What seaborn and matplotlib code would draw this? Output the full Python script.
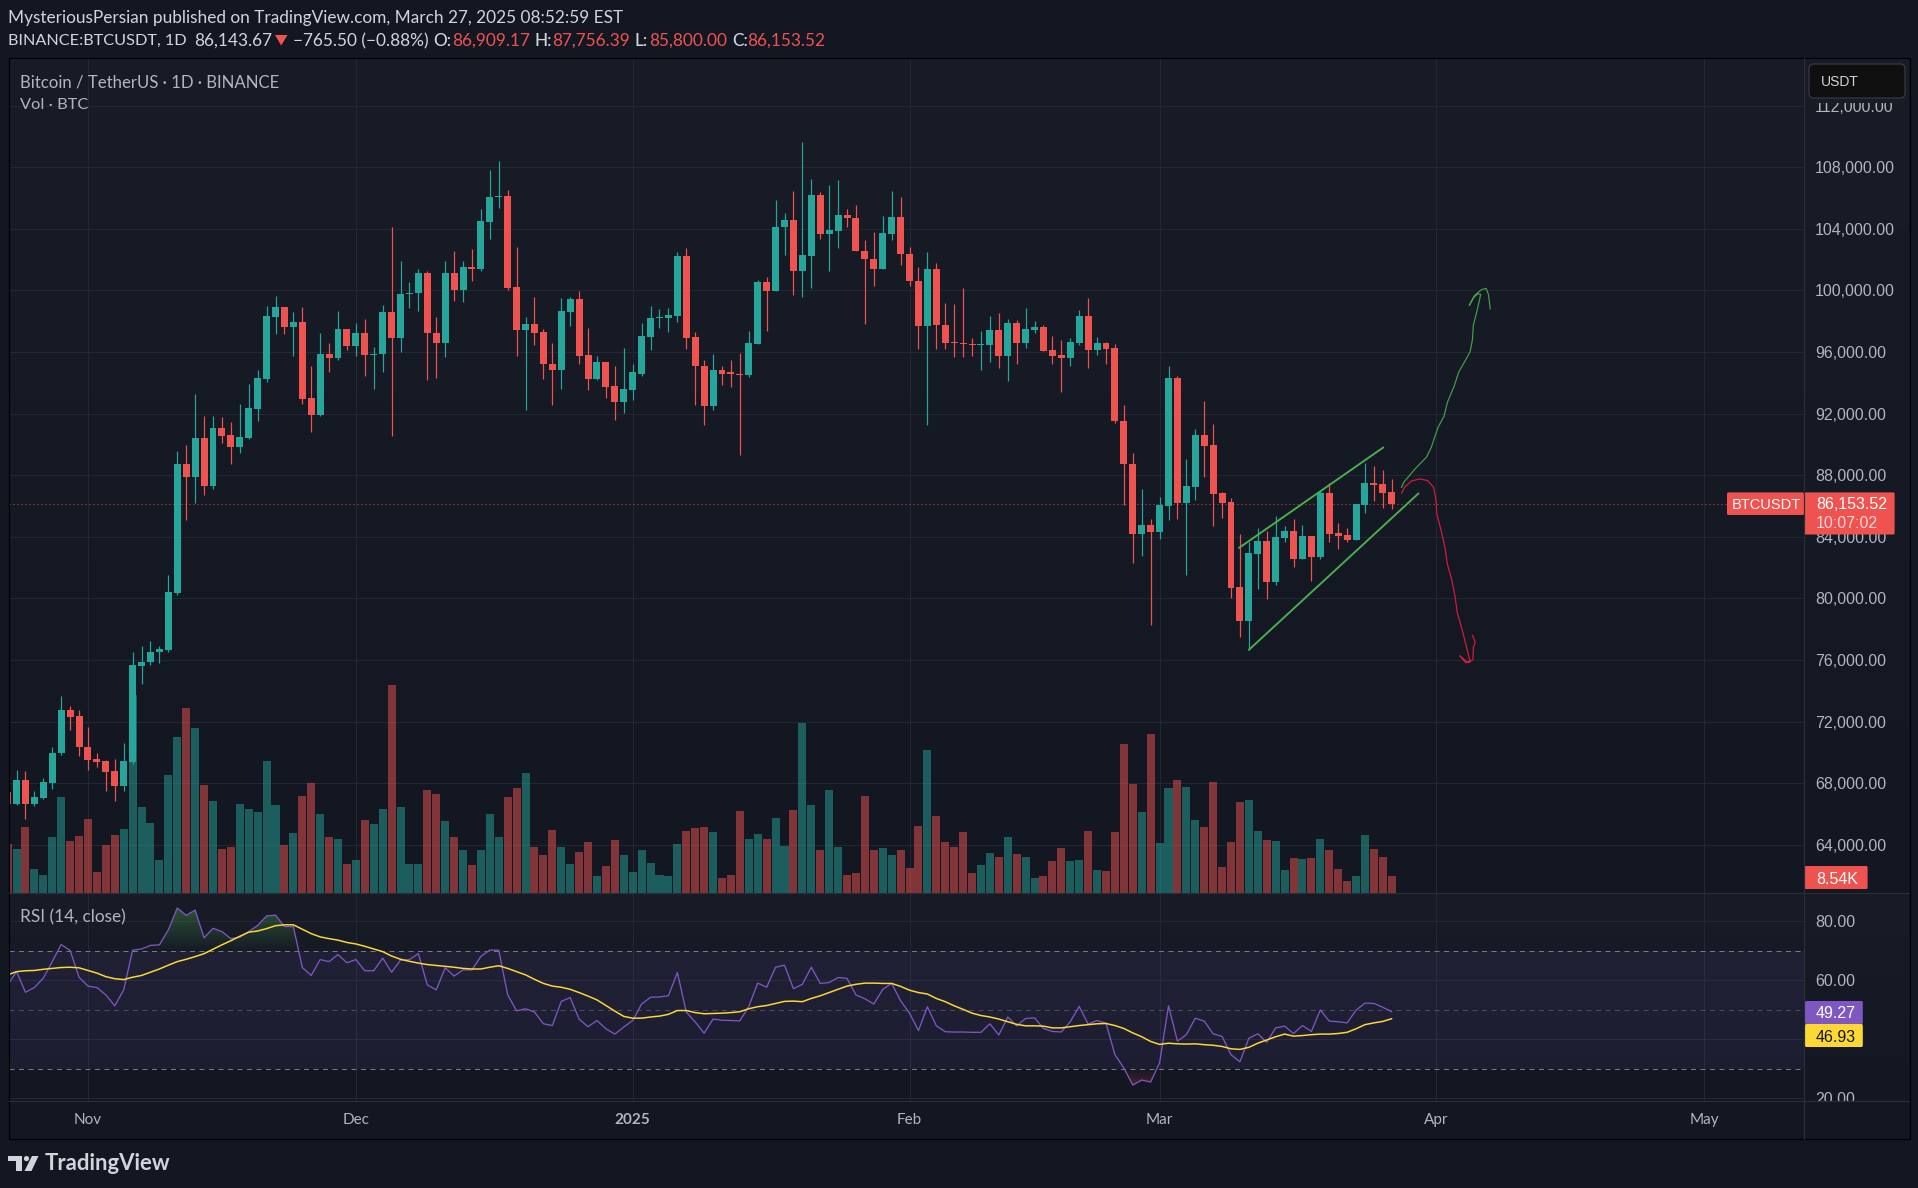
import numpy as np
import pandas as pd
import seaborn as sns
import matplotlib
matplotlib.use('Agg')
import matplotlib.pyplot as plt
from matplotlib.colors import LinearSegmentedColormap
from matplotlib.patches import Rectangle, FancyBboxPatch, Polygon, Circle, PathPatch
from matplotlib.path import Path

# candles, oldest first (23 Oct 2024 .. 27 Mar 2025)
opens = [
    67440, 66670, 68220, 66670, 67050, 68020, 69930, 72770, 72380, 70380,
    69540, 69410, 68800, 67830, 69350, 75580, 75840, 76490, 76680, 80360,
    88700, 87890, 90440, 87310, 91090, 90630, 89860, 90440, 92310, 94250,
    98290, 98930, 97640, 97970, 93020, 91930, 95900, 95640, 97510, 96420,
    97260, 95830, 95900, 98610, 96930, 99770, 99840, 101160, 97260, 96610,
    101160, 100000, 101490, 101420, 104460, 106070, 106140, 100230, 97450, 97840,
    97320, 95250, 94860, 98610, 99450, 95830, 94250, 95380, 93800, 92770,
    93540, 94570, 97000, 98220, 98220, 98350, 102260, 97000, 95120, 92510,
    94800, 94670, 94570, 94510, 96540, 100550, 99970, 104130, 104590, 101290,
    102260, 106200, 103680, 103880, 104910, 104720, 102580, 102070, 101360, 103680,
    104780, 102390, 100610, 97710, 101360, 97770, 96670, 96610, 96540, 96480,
    96480, 97450, 95770, 97900, 96610, 97450, 97640, 96160, 95830, 95640,
    96610, 98350, 96160, 96610, 96290, 91540, 88700, 84210, 84790, 84340,
    86010, 94320, 86210, 87240, 90630, 89990, 86850, 86270, 80750, 78550,
    82910, 83750, 81070, 83950, 84400, 82590, 84080, 82720, 86850, 84270,
    84140, 83820, 86080, 87500, 87440, 86909.17]
highs = [
    67640, 68860, 68800, 67510, 68350, 70320, 73680, 73030, 72770, 71670,
    69990, 69480, 69540, 70640, 76490, 76940, 77260, 76940, 81520, 89600,
    89990, 93280, 91860, 91860, 91800, 91470, 92640, 93930, 94860, 99000,
    99650, 98930, 98610, 98930, 95060, 97260, 96610, 98680, 97510, 97900,
    98160, 96350, 99060, 104130, 101940, 100520, 101420, 101290, 98290, 101940,
    102580, 101940, 102710, 105300, 107850, 108430, 106530, 102840, 98290, 99580,
    97510, 96610, 99520, 99580, 99970, 97580, 95770, 95380, 95060, 96290,
    95190, 97900, 99000, 98810, 98870, 102520, 102780, 97320, 95450, 95900,
    95120, 95510, 95960, 97380, 100680, 100870, 105880, 105040, 106460, 109660,
    107240, 106400, 106850, 107170, 105300, 105560, 103300, 103810, 104850, 106460,
    106070, 102840, 101490, 102520, 101810, 99190, 99130, 100160, 96930, 97380,
    98350, 98550, 98160, 98090, 98870, 98030, 97770, 97060, 96800, 96930,
    98740, 99520, 97000, 96670, 96540, 92570, 89470, 87110, 85170, 86600,
    95060, 94440, 89020, 91020, 92830, 91340, 86920, 86530, 84210, 83690,
    84590, 84400, 85370, 84720, 85170, 84790, 84080, 86980, 87500, 84920,
    84590, 86140, 88820, 88630, 88310, 87756.39]
lows = [
    66510, 66570, 65670, 66510, 66990, 67640, 69800, 71480, 69740, 68860,
    69060, 67510, 66860, 67510, 69250, 74450, 75650, 75780, 76550, 80230,
    85110, 86210, 86730, 87110, 90120, 88760, 89410, 90380, 91540, 94060,
    97190, 97190, 95770, 92640, 90830, 91860, 94670, 95450, 96160, 95770,
    94440, 93610, 94670, 90570, 96030, 98870, 98680, 94190, 94320, 95700,
    99320, 99260, 100610, 101290, 103360, 105360, 100030, 95770, 92250, 96480,
    94250, 92570, 93610, 97710, 95250, 93540, 94190, 93020, 91600, 92050,
    92890, 94440, 96160, 97580, 97320, 97970, 96220, 92570, 91280, 92250,
    93860, 93730, 89340, 94380, 96540, 97380, 99970, 102330, 99710, 99580,
    100160, 103360, 101290, 102780, 104130, 102580, 97840, 100290, 101360, 103300,
    101620, 100290, 96220, 91280, 96220, 96220, 95700, 95700, 95770, 94800,
    95320, 94930, 94120, 95250, 96290, 97260, 96090, 95250, 93410, 95060,
    96480, 94930, 95830, 95250, 91410, 86080, 82330, 82780, 78290, 83880,
    85110, 85170, 81520, 86400, 87890, 84720, 85240, 80040, 77520, 76680,
    80620, 79970, 80880, 83690, 82070, 82530, 81140, 82590, 83690, 83240,
    83690, 83820, 85560, 86340, 85890, 85800.00]
closes = [
    66670, 68220, 66670, 67120, 68090, 69990, 72770, 72320, 70320, 69480,
    69350, 68730, 67830, 69410, 75650, 75900, 76550, 76740, 80430, 88700,
    87890, 90440, 87310, 91090, 90570, 89860, 90500, 92380, 94320, 98350,
    98930, 97640, 97970, 92960, 91930, 95900, 95640, 97510, 96420, 97260,
    95830, 95900, 98610, 96930, 99770, 99840, 101160, 97260, 96610, 101160,
    100000, 101490, 101420, 104520, 106070, 106140, 100160, 97450, 97840, 97260,
    95190, 94860, 98680, 99450, 95770, 94250, 95380, 93730, 92770, 93610,
    94670, 97060, 98220, 98290, 98420, 102260, 96930, 95060, 92510, 94800,
    94570, 94570, 94510, 96610, 100550, 99970, 104130, 104590, 101290, 102330,
    106200, 103680, 103940, 104910, 104720, 102580, 102070, 101360, 103750, 104780,
    102390, 100610, 97710, 101360, 97770, 96610, 96610, 96540, 96480, 96540,
    97450, 95770, 97900, 96610, 97510, 97640, 96090, 95770, 95640, 96670,
    98350, 96160, 96610, 96220, 91540, 88700, 84210, 84790, 84340, 86080,
    94320, 86210, 87310, 90630, 89920, 86790, 86210, 80690, 78550, 82980,
    83750, 81070, 84010, 84400, 82590, 84080, 82720, 86850, 84210, 84080,
    83820, 86140, 87500, 87370, 86850, 86153.52]
# volume in thousands of BTC
volumes = [
    24.8, 22.3, 33.4, 12.0, 9.0, 28.4, 48.4, 26.4, 28.9, 37.4,
    10.5, 24.3, 29.4, 32.4, 99.9, 43.4, 35.4, 16.8, 59.5, 78.8,
    93.4, 83.3, 54.5, 46.4, 22.3, 23.3, 44.9, 42.4, 40.9, 66.8,
    44.4, 24.3, 30.4, 48.9, 55.5, 39.9, 28.4, 27.4, 14.6, 16.8,
    36.9, 34.9, 42.4, 104.9, 43.4, 14.6, 14.6, 52.0, 49.9, 36.4,
    28.4, 21.8, 14.1, 21.8, 39.9, 28.4, 48.4, 53.0, 60.5, 23.3,
    19.3, 31.9, 23.3, 14.6, 20.8, 25.9, 8.5, 13.6, 26.9, 19.3,
    10.5, 21.8, 15.1, 9.0, 8.5, 24.8, 31.4, 32.9, 33.4, 30.9,
    7.5, 9.0, 41.4, 27.4, 29.9, 27.4, 37.9, 23.8, 41.9, 85.8,
    44.4, 21.8, 52.0, 23.3, 9.0, 10.0, 48.9, 21.8, 22.8, 19.3,
    21.8, 12.6, 33.9, 72.3, 38.9, 25.9, 23.3, 30.9, 10.0, 14.1,
    20.3, 18.3, 28.4, 19.8, 18.3, 7.5, 8.5, 16.3, 22.8, 16.3,
    16.8, 31.4, 11.5, 11.0, 30.9, 75.3, 55.0, 40.9, 80.3, 25.4,
    53.0, 57.0, 53.5, 36.9, 33.4, 56.0, 13.1, 25.9, 45.9, 46.9,
    31.4, 26.9, 26.4, 11.5, 17.8, 17.3, 17.8, 27.4, 21.8, 12.0,
    6.0, 8.5, 29.4, 22.3, 18.3, 8.54]
rsi = [
    58.4, 62.9, 55.9, 57.5, 60.7, 66.3, 72.1, 70.1, 61.0, 58.0,
    57.5, 55.0, 51.3, 56.7, 70.2, 70.6, 71.8, 72.0, 77.1, 84.5,
    82.0, 83.8, 74.4, 77.6, 76.5, 74.1, 74.6, 76.5, 78.6, 81.8,
    82.1, 78.2, 78.2, 64.3, 61.6, 67.0, 66.3, 68.7, 65.9, 67.0,
    63.2, 63.2, 67.5, 62.7, 66.8, 67.0, 69.0, 58.4, 56.7, 64.2,
    61.4, 63.5, 63.5, 68.1, 70.2, 70.2, 55.0, 49.6, 50.3, 49.2,
    45.2, 44.6, 52.8, 54.1, 46.8, 44.2, 46.3, 43.5, 41.7, 44.1,
    46.3, 51.9, 54.2, 54.3, 54.7, 62.6, 49.2, 45.8, 42.0, 46.8,
    46.4, 46.3, 46.2, 51.1, 59.0, 57.6, 64.4, 65.1, 57.1, 58.6,
    64.4, 58.9, 59.2, 60.9, 60.6, 55.0, 53.7, 51.9, 56.9, 58.9,
    53.0, 48.8, 42.9, 51.0, 44.5, 42.5, 42.4, 42.4, 42.3, 42.3,
    45.2, 41.4, 47.5, 44.5, 47.0, 47.2, 43.6, 42.6, 42.4, 45.9,
    51.1, 45.1, 46.3, 45.4, 34.7, 30.2, 24.4, 26.1, 25.4, 31.9,
    51.3, 39.3, 41.5, 47.1, 46.1, 41.8, 40.9, 34.7, 32.3, 40.3,
    41.8, 38.9, 43.8, 44.4, 41.9, 44.6, 42.6, 49.9, 46.1, 45.9,
    45.5, 49.8, 52.2, 52.1, 50.8, 49.27]
rsi_ma = [
    61.8, 62.9, 63.2, 63.3, 63.7, 64.0, 64.3, 64.4, 64.2, 63.3,
    62.4, 61.2, 60.5, 60.2, 61.0, 61.6, 62.7, 63.8, 65.1, 66.3,
    67.1, 68.0, 69.0, 70.5, 72.0, 73.4, 74.9, 76.3, 76.7, 77.5,
    78.5, 78.8, 78.8, 77.3, 75.8, 74.7, 74.1, 73.6, 72.8, 72.3,
    71.5, 70.6, 69.7, 68.2, 67.1, 66.4, 65.8, 65.3, 65.0, 64.7,
    64.4, 64.0, 63.8, 63.8, 64.4, 64.9, 64.0, 62.9, 61.8, 60.3,
    58.9, 58.0, 57.6, 56.9, 55.8, 54.6, 53.3, 51.4, 49.5, 47.7,
    47.1, 47.1, 47.5, 47.8, 48.4, 49.7, 49.7, 49.0, 48.6, 48.7,
    48.8, 49.0, 49.3, 50.3, 51.0, 51.4, 52.1, 52.8, 52.9, 52.7,
    53.8, 54.7, 55.8, 56.9, 58.0, 58.6, 59.0, 59.0, 58.9, 58.9,
    57.9, 56.6, 55.8, 55.3, 53.8, 52.7, 51.3, 50.1, 48.8, 48.0,
    47.5, 46.8, 45.9, 45.0, 44.5, 44.5, 44.4, 43.8, 43.8, 44.2,
    44.6, 44.9, 45.2, 45.3, 44.6, 43.6, 42.1, 40.8, 39.2, 38.2,
    38.6, 38.4, 38.3, 38.4, 38.1, 37.9, 37.5, 36.7, 36.5, 37.2,
    38.6, 39.7, 40.8, 41.7, 41.0, 41.2, 41.5, 41.7, 41.7, 41.9,
    42.3, 43.5, 44.9, 45.5, 46.0, 46.93]

month_ticks = [9, 39, 70, 101, 129, 160, 190]
month_labels = ['Nov', 'Dec', '2025', 'Feb', 'Mar', 'Apr', 'May']
price_ticks = list(range(64000, 116000, 4000))
rsi_ticks = [20, 40, 60, 80]
last_price = 86153.52

# hand drawn bits, bar index / price
channel_top_x = [137.9, 154.05]
channel_top_y = [83280, 89800]
channel_bot_x = [139.0, 158.0]
channel_bot_y = [76660, 86820]
up_x = [156.09, 156.35, 157.63, 158.91, 159.42, 160.19, 160.86, 161.22, 161.98, 162.5, 163.16, 163.78,
        164.04, 164.14, 164.55, 164.96, 164.65, 164.14, 163.68, 164.29, 165.06, 165.57, 165.83, 166.03]
up_y = [87200, 87545, 88420, 89188, 89797, 91122, 91838, 92713, 93773, 94700, 95363, 96025,
        96820, 97748, 98675, 99735, 99788, 99523, 99020, 99682, 100053, 100133, 99735, 98781]
down_x = [156.09, 156.45, 157.22, 158.14, 159.01, 159.68, 159.93, 160.04, 160.55, 160.96, 161.22, 161.73,
          162.09, 162.34, 162.86, 163.27, 163.78, 163.27, 162.6, 163.52, 164.09, 164.14, 164.34, 164.04]
down_y = [86830, 87227, 87625, 87757, 87651, 87227, 86485, 85505, 84365, 83305, 82245, 81185,
          80125, 79065, 78005, 77078, 75885, 75832, 76283, 75832, 76018, 76813, 77157, 77608]

GREEN = '#26A69A'
RED = '#EF5350'
PURPLE = '#7E57C2'
YELLOW = '#FDD835'
LABEL = '#B2B5BE'
TEXT = '#D1D4DC'
GRID = '#232733'
LINE = '#2A2E39'
BG_TOP = '#181C27'
BG_BOT = '#131722'
W, H = 1918, 1188
PX = 0.72  # one pixel in points at dpi 100

sns.set_theme(style='dark', rc={'axes.facecolor': 'none', 'figure.facecolor': BG_BOT})
plt.rcParams['font.family'] = ['Lato', 'DejaVu Sans']

fig = plt.figure(figsize=(W / 100, H / 100), dpi=100)


def px_axes(x0, y0, x1, y1, z):
    return fig.add_axes([x0 / W, 1 - y1 / H, (x1 - x0) / W, (y1 - y0) / H], zorder=z)


# backdrop, in pixels
ax_bg = px_axes(0, 0, W, H, 0)
ax_bg.set_axis_off()
grad = LinearSegmentedColormap.from_list('pane', [BG_TOP, BG_BOT])
ramp = np.linspace(0, 1, 256).reshape(-1, 1)
ax_bg.imshow(ramp, extent=[9, 1909, 893, 58], cmap=grad, aspect='auto')
ax_bg.imshow(ramp, extent=[9, 1909, 1101, 893], cmap=grad, aspect='auto')
ax_bg.set_xlim(0, W)
ax_bg.set_ylim(H, 0)

idx = np.arange(len(closes))
o = np.array(opens)
c = np.array(closes)
colors = np.where(c < o, RED, GREEN)

# x = bar index, 8.93 px per bar with bar 0 at px 7.6
xlim = ((9 - 7.6) / 8.93, (1804 - 7.6) / 8.93)

ax_main = px_axes(9, 58, 1804, 893, 2)
ax_main.set_xlim(*xlim)
ax_main.set_ylim(60871, 115091)
ax_main.set_xticks(month_ticks)
ax_main.set_xticklabels([])
ax_main.set_yticks(price_ticks)
ax_main.set_yticklabels([f'{p:,.2f}' for p in price_ticks], family='Liberation Sans', fontsize=11.5, color=LABEL)
ax_main.yaxis.tick_right()
ax_main.tick_params(length=0, pad=8)
ax_main.grid(True, color=GRID, lw=PX, zorder=0)
ax_main.set_axisbelow(True)
for s in ax_main.spines.values():
    s.set_visible(False)

ax_main.axhline(last_price, color=RED, alpha=0.9, lw=PX, ls=(0, (1, 3)), zorder=1)
ax_main.vlines(idx, lows, highs, colors=colors, lw=PX * 1.2, zorder=2)
ax_main.bar(idx, np.maximum(np.abs(c - o), 70), bottom=np.minimum(o, c), width=0.78, color=colors, lw=0, zorder=3)

sns.lineplot(x=channel_top_x, y=channel_top_y, color='#4CAF50', lw=PX * 1.9, ax=ax_main, sort=False, estimator=None, zorder=4)
sns.lineplot(x=channel_bot_x, y=channel_bot_y, color='#4CAF50', lw=PX * 1.9, ax=ax_main, sort=False, estimator=None, zorder=4)
sns.lineplot(x=up_x, y=up_y, color='#43A047', lw=PX * 1.2, ax=ax_main, sort=False, estimator=None, zorder=4)
sns.lineplot(x=down_x, y=down_y, color='#D81B3C', lw=PX * 1.2, ax=ax_main, sort=False, estimator=None, zorder=4)
ax_main.set_xlim(*xlim)
ax_main.set_ylim(60871, 115091)

# volume on its own scale, about 2 px per thousand
ax_vol = px_axes(9, 58, 1804, 893, 3)
vol_df = pd.DataFrame({'bar': idx, 'volume': volumes, 'side': np.where(c < o, 'down', 'up')})
sns.barplot(data=vol_df, x='bar', y='volume', hue='side', palette={'up': GREEN, 'down': RED},
            native_scale=True, dodge=False, width=0.9, saturation=1, alpha=0.5, legend=False,
            linewidth=0, errorbar=None, ax=ax_vol)
ax_vol.set_xlim(*xlim)
ax_vol.set_ylim(0, 421.7)
ax_vol.set_axis_off()

# RSI pane
rsi_lim = (18.98, 89.6)
ax_rsi = px_axes(9, 893, 1804, 1101, 2)
ax_rsi.set_xlim(*xlim)
ax_rsi.set_ylim(*rsi_lim)
ax_rsi.set_xticks(month_ticks)
ax_rsi.set_xticklabels([])
ax_rsi.set_yticks(rsi_ticks)
ax_rsi.set_yticklabels([f'{v:.2f}' for v in rsi_ticks], family='Liberation Sans', fontsize=11.5, color=LABEL)
ax_rsi.yaxis.tick_right()
ax_rsi.tick_params(length=0, pad=8)
ax_rsi.grid(True, color=GRID, lw=PX, zorder=0)
ax_rsi.set_axisbelow(True)
for s in ax_rsi.spines.values():
    s.set_visible(False)
ax_rsi.axhspan(30, 70, color=PURPLE, alpha=0.1, lw=0, zorder=1)
for level, a in [(70, 1), (50, 0.5), (30, 1)]:
    ax_rsi.axhline(level, color='#787B86', alpha=a, lw=PX, ls=(0, (5, 4.5)), zorder=2)

rsi_arr = np.array(rsi)
for level, top, rgb, flip in [(70, 85, (76 / 255, 175 / 255, 80 / 255), False),
                              (30, 20, (1.0, 82 / 255, 82 / 255), True)]:
    where = rsi_arr < level if flip else rsi_arr > level
    poly = ax_rsi.fill_between(idx, rsi_arr, level, where=where, interpolate=True, color='none', lw=0)
    clip = PathPatch(Path.make_compound_path(*poly.get_paths()), transform=ax_rsi.transData, fc='none', ec='none')
    ax_rsi.add_patch(clip)
    cmap = LinearSegmentedColormap.from_list('fade', [(*rgb, 0.0), (*rgb, 0.38)])
    lo, hi = (top, level) if flip else (level, top)
    img = ramp[::-1] if flip else ramp
    im = ax_rsi.imshow(img, extent=[0, 156, lo, hi], origin='lower', cmap=cmap, aspect='auto', zorder=2)
    im.set_clip_path(clip)

sns.lineplot(x=idx, y=rsi, color=PURPLE, lw=PX * 1.3, ax=ax_rsi, estimator=None, zorder=4)
sns.lineplot(x=idx, y=rsi_ma, color=YELLOW, lw=PX * 1.5, ax=ax_rsi, estimator=None, zorder=5)
ax_rsi.set_xlim(*xlim)
ax_rsi.set_ylim(*rsi_lim)

# time axis
ax_time = px_axes(9, 1101, 1909, 1139, 4)
ax_time.set_facecolor(BG_BOT)
ax_time.set_xlim(xlim[0], (1909 - 7.6) / 8.93)
ax_time.set_ylim(0, 1)
ax_time.set_yticks([])
ax_time.set_xticks(month_ticks)
ax_time.set_xticklabels(month_labels, fontsize=11, color=LABEL)
ax_time.xaxis.tick_top()
ax_time.tick_params(length=0, labeltop=False, labelbottom=True, bottom=False, top=False, pad=-19)
ax_time.get_xticklabels()[2].set_fontweight('bold')
ax_time.grid(False)
for s in ax_time.spines.values():
    s.set_visible(False)

# chrome on top, in pixels
ov = px_axes(0, 0, W, H, 5)
ov.set_xlim(0, W)
ov.set_ylim(H, 0)
ov.set_axis_off()
ov.plot([9, 1909], [893, 893], color=LINE, lw=PX * 1.2)
ov.plot([9, 1909], [1101, 1101], color=LINE, lw=PX * 1.2)
ov.plot([1804.4, 1804.4], [58, 1139], color=LINE, lw=PX * 1.2)
ov.add_patch(Rectangle((8.5, 58), 1901, 1081, fc='none', ec='#000000', lw=PX * 1.2))


def tag(x0, y0, x1, y1, color):
    ov.add_patch(FancyBboxPatch((x0, y0), x1 - x0, y1 - y0, boxstyle='round,pad=0,rounding_size=1.5', fc=color, ec='none'))


def label(x, y, s, color=LABEL, size=10.5, **kw):
    return ov.text(x, y, s, color=color, fontsize=size, va='center', ha=kw.pop('ha', 'left'), **kw)


# the scale button hides the top of the 112,000 label
ov.add_patch(Rectangle((1806, 60), 102, 43, fc=BG_TOP, ec='none'))
ov.add_patch(FancyBboxPatch((1809, 64), 96, 34, boxstyle='round,pad=0,rounding_size=5', fc='#0F0F0F', ec='#363A45', lw=PX * 1.2))
label(1821, 82, 'USDT', color=TEXT, size=10, family='Liberation Sans')

tag(1727, 492.4, 1804, 515, RED)
tag(1804.5, 492.4, 1894.6, 534.5, RED)
label(1732, 505, 'BTCUSDT', color='white', size=10.5, family='Liberation Sans')
label(1816, 504.5, f'{last_price:,.2f}', color='white', size=11.5, family='Liberation Sans')
label(1816, 523, '10:07:02', color='#F5D6D6', size=11.5, family='Liberation Sans')
tag(1804.5, 866, 1867.6, 889, RED)
label(1816, 879, '8.54K', color='white', size=11.5, family='Liberation Sans')
tag(1805, 1001, 1862.8, 1024, PURPLE)
tag(1805, 1024, 1862.8, 1047, YELLOW)
label(1816, 1014, f'{rsi[-1]:.2f}', color='white', size=11.5, family='Liberation Sans')
label(1816, 1037, f'{rsi_ma[-1]:.2f}', color='#131722', size=11.5, family='Liberation Sans')

label(20, 82, 'Bitcoin / TetherUS · 1D · BINANCE', size=12.1)
label(20, 105, 'Vol · BTC', size=11.8)
label(20, 917, 'RSI (14, close)', size=12.4)

# header lines
label(8, 18, 'MysteriousPersian published on TradingView.com, March 27, 2025 08:52:59 EST', color=TEXT, size=12.4)
label(8, 41, 'BINANCE:BTCUSDT, 1D', color=TEXT, size=11.7)
label(194, 41, '86,143.67', color=TEXT, size=12.4)
ov.add_patch(Polygon([[275, 35], [287.5, 35], [281.2, 45.5]], fc=RED, ec='none'))
label(293, 41, '−765.50 (−0.88%)', color=TEXT, size=12.4)
header_names = ['O:', 'H:', 'L:', 'C:']
header_values = ['86,909.17', '87,756.39', '85,800.00', '86,153.52']
for name, value, x_name, x_value in zip(header_names, header_values, [433.6, 534, 634, 732], [452.5, 552.5, 649, 747]):
    label(x_name, 41, name, color=TEXT, size=12.4, fontweight='medium')
    label(x_value, 41, value, color=RED, size=12.4)

# logo
ov.add_patch(Polygon([[8, 1156], [22, 1156], [22, 1171], [16, 1171], [16, 1161], [8, 1161]], fc=TEXT, ec='none'))
ov.add_patch(Circle((26.5, 1158.6), 2.6, fc=TEXT, ec='none'))
ov.add_patch(Polygon([[32, 1156], [38.5, 1156], [31.5, 1171], [24.5, 1171]], fc=TEXT, ec='none'))
label(45, 1164, 'TradingView', color=TEXT, size=15.9, fontweight='bold')

fig.savefig('out.png', dpi=100, facecolor=fig.get_facecolor())
